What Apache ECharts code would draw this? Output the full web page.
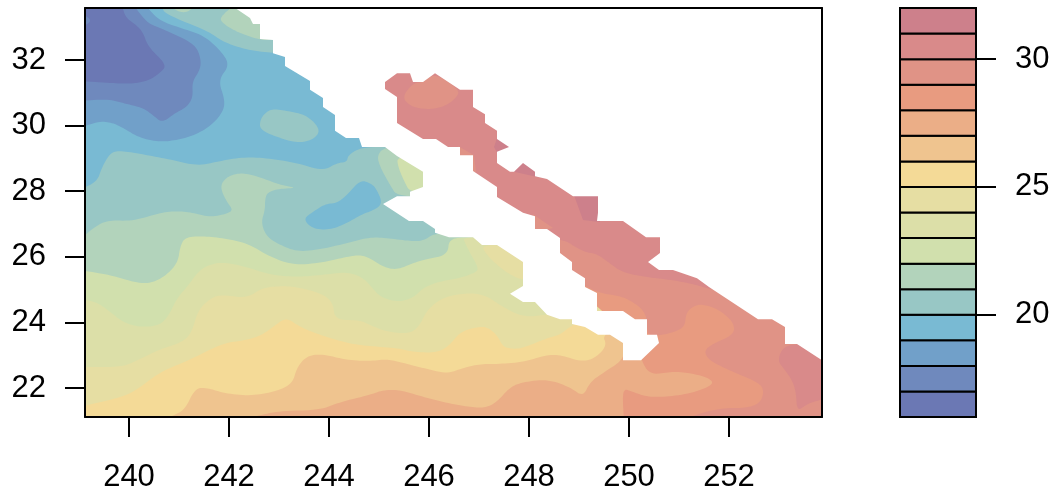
<!DOCTYPE html>
<html>
<head>
<meta charset="utf-8">
<style>html,body{margin:0;padding:0;background:#fff}#c{width:1055px;height:495px}</style>
<script src="https://cdn.jsdelivr.net/npm/echarts@6/dist/echarts.min.js"></script>
</head>
<body>
<div id="c"></div>
<script>
// Contour levels of the colour key and one colour per band (lowest first)
const levels = [16,17,18,19,20,21,22,23,24,25,26,27,28,29,30,31,32];
const bandColors = ['#6b78b4','#6f89bd','#71a0c9','#79bad3','#98c7c5','#b2d3bb','#d1e0ad','#dcdfa8','#e6dea3','#f4da97','#efc48f','#ebae87','#e89b80','#e09386','#d98a8a','#cd808b'];
const lonTicks = [240,242,244,246,248,250,252];
const latTicks = [22,24,26,28,30,32];
const keyTicks = [20,25,30];

// Contour regions as [longitude, latitude]
const box = [[239,21],[254,21],[254,34],[239,34]];
const above17 = [[239.86,33.7],[239.92,33.31],[240.14,33.07],[240.28,32.85],[240.38,32.40],[240.76,31.85],[240.62,31.60],[240.38,31.36],[240.02,31.27],[239.62,31.30],[239,31.36],[239,21],[254,21],[254,33.7]];
const above17Corner = [[239,33.44],[239.22,33.28],[239.22,33.13],[239,32.98]];
const above18 = [[240.08,33.7],[240.36,33.13],[240.62,32.98],[241.16,32.61],[241.36,32.37],[241.44,32.0],[241.42,31.70],[241.26,31.33],[241.28,30.87],[241.16,30.57],[240.92,30.38],[240.66,30.08],[240.48,30.32],[240.28,30.54],[239.88,30.69],[239.56,30.81],[239,30.75],[239,21],[254,21],[254,33.7]];
const above19 = [[240.32,33.7],[240.58,33.22],[241.02,32.98],[241.48,32.76],[241.82,32.31],[242.02,31.85],[241.78,31.39],[241.92,30.78],[241.88,30.42],[241.66,30.02],[241.32,29.71],[240.96,29.56],[240.62,29.50],[240.22,29.62],[239.88,29.93],[239.68,30.08],[239.42,30.14],[239,29.93],[239,21],[254,21],[254,33.7]];
const above20North = [[240.66,33.7],[240.68,33.46],[241.02,33.22],[241.62,32.85],[241.88,32.55],[242.36,32.31],[242.88,32.21],[243.2,32.21],[243.2,33.7]];
const above20South = [[239,28.04],[239.36,28.28],[239.46,28.74],[239.64,29.20],[239.88,29.23],[240.36,29.10],[240.88,28.95],[241.38,28.77],[241.82,28.92],[242.28,29.04],[242.76,29.01],[243.36,28.86],[243.88,28.62],[244.16,28.86],[244.36,28.89],[244.38,29.10],[244.66,29.35],[254,29.35],[254,21],[239,21]];
const above20Island = [[242.86,30.51],[243.16,30.45],[243.56,30.32],[243.84,29.87],[243.68,29.56],[243.36,29.47],[242.96,29.65],[242.62,29.87],[242.62,30.17],[242.72,30.38]];
const below20Pool = [[243.48,27.15],[243.68,26.85],[244.02,26.82],[244.36,27.03],[244.68,27.31],[244.86,27.40],[245.08,27.61],[244.94,28.10],[244.82,28.25],[244.62,28.34],[244.36,27.88],[244.16,27.64],[243.92,27.61],[243.68,27.37]];
const above21Top = [[240.86,33.7],[240.86,33.59],[241.02,33.46],[241.16,33.46],[241.28,33.59],[241.28,33.7]];
const above21North = [[242.12,33.7],[241.82,33.31],[241.86,33.13],[242.16,32.85],[242.62,32.61],[242.92,32.61],[242.92,33.7]];
const above21East = [[245.12,29.35],[244.96,29.10],[245.02,28.74],[245.22,28.19],[245.36,27.85],[246,27.85],[246,29.35]];
const above21Main = [[239,26.51],[239.36,26.97],[239.62,27.12],[240.08,27.09],[240.62,27.34],[240.96,27.40],[241.28,27.34],[241.62,27.21],[241.96,27.31],[242.08,27.43],[241.96,27.67],[241.84,28.04],[241.86,28.28],[242.02,28.49],[242.28,28.56],[242.62,28.43],[243.02,28.19],[243.38,28.10],[242.96,28.07],[242.76,27.95],[242.72,27.73],[242.72,27.43],[242.64,27.03],[242.76,26.60],[243.02,26.36],[243.38,26.15],[243.88,26.24],[244.36,26.42],[244.82,26.60],[245.16,26.57],[245.62,26.48],[245.88,26.48],[246.12,26.73],[254,26.73],[254,21],[239,21]];
const above22East = [[245.36,29.07],[245.38,28.74],[245.52,28.25],[245.62,27.98],[246,27.98],[246,29.07]];
const above22Main = [[239,25.60],[239.62,25.45],[240.16,25.20],[240.46,25.20],[240.76,25.45],[240.98,25.84],[241.02,26.30],[241.12,26.60],[241.48,26.63],[241.88,26.57],[242.36,26.42],[242.82,26.0],[243.28,25.75],[243.82,25.81],[244.36,26.0],[244.62,26.06],[244.82,25.96],[245.08,25.69],[245.36,25.60],[245.68,25.81],[245.96,25.93],[246.38,26.06],[246.40,26.60],[254,26.60],[254,21],[239,21]];
const above23 = [[239,24.71],[239.36,24.62],[239.62,24.32],[239.88,24.01],[240.18,23.86],[240.58,23.89],[240.78,24.16],[240.96,24.74],[241.16,25.08],[241.38,25.54],[241.58,25.75],[241.88,25.84],[242.36,25.69],[242.82,25.45],[243.36,25.38],[243.88,25.45],[244.36,25.54],[244.66,25.38],[244.82,25.14],[245.02,24.77],[245.38,24.62],[245.68,24.74],[245.88,25.05],[246.16,25.23],[246.62,25.35],[246.96,25.54],[246.98,25.69],[246.82,26.12],[246.72,26.42],[246.68,26.60],[254,26.60],[254,21],[239,21]];
const above24East = [[247.06,26.36],[247.12,26.12],[247.36,25.75],[247.62,25.45],[247.88,25.29],[248.2,25.29],[248.2,26.36]];
const above24Main = [[239,22.64],[239.86,22.64],[240.18,22.85],[240.58,23.16],[241.08,23.40],[241.26,23.71],[241.38,24.38],[241.66,24.77],[241.88,24.84],[242.36,24.74],[242.66,25.05],[243.02,25.11],[243.36,25.08],[243.88,24.87],[244.08,24.59],[244.12,24.07],[244.62,24.07],[244.82,23.92],[245.16,23.71],[245.62,23.65],[245.82,23.92],[245.96,24.38],[246.28,24.77],[246.76,24.90],[247.12,24.84],[247.48,24.47],[247.88,24.16],[248.36,24.23],[249.36,24.53],[254,26.6],[254,21],[239,21]];
const above25 = [[239,21.42],[239.62,21.63],[240.08,21.85],[240.62,22.49],[241.16,22.82],[241.88,23.37],[242.36,23.46],[242.66,23.62],[242.88,23.86],[243.14,24.16],[243.42,23.86],[243.82,23.62],[244.36,23.37],[244.76,23.28],[245.36,23.22],[245.68,23.10],[246.16,23.07],[246.42,23.31],[246.62,23.71],[246.96,23.86],[247.16,23.86],[247.36,23.62],[247.48,23.25],[247.68,23.19],[247.88,23.22],[248.36,23.52],[248.62,23.62],[248.86,23.92],[249.42,24.38],[254,26.6],[254,21],[239,21]];
const above26 = [[240.7,21],[240.86,21.15],[241.12,21.33],[241.32,22.0],[241.58,22.0],[241.88,21.85],[242.36,21.76],[242.82,21.85],[243.26,22.09],[243.36,22.64],[243.56,22.98],[243.86,23.04],[244.36,22.85],[244.82,22.82],[245.16,22.88],[245.42,22.79],[245.88,22.61],[246.36,22.43],[246.68,22.61],[247.02,22.73],[247.36,22.73],[247.88,22.79],[248.36,23.01],[248.62,23.01],[249.08,22.79],[249.36,22.95],[249.56,23.31],[249.46,23.62],[250.02,24.07],[254,26.6],[254,21]];
const above27 = [[242.2,21],[242.56,21.15],[243.02,21.30],[243.82,21.33],[244.22,21.57],[244.82,21.79],[245.08,21.94],[245.42,21.94],[245.88,21.73],[246.36,21.54],[246.82,21.42],[247.12,21.39],[247.36,21.57],[247.62,22.03],[247.88,22.18],[248.36,22.27],[248.82,22.03],[249.08,21.73],[249.22,22.18],[249.48,22.46],[249.88,22.85],[249.92,23.31],[250.22,23.91],[254,26.6],[254,21]];
const above28 = [[249.9,21],[249.86,22.0],[250.08,21.88],[250.36,21.73],[250.76,21.73],[251.28,21.85],[251.72,22.12],[251.56,22.34],[251.08,22.49],[250.82,22.49],[250.42,22.40],[250.24,22.85],[250.22,23.31],[249.22,24.68],[248.22,25.90],[247.02,27.73],[245.82,29.26],[245.02,30.17],[245.02,34],[254,34],[254,21]];
const above29 = [[250.56,23.59],[250.86,23.68],[251.12,23.86],[251.14,24.32],[251.36,24.56],[251.62,24.50],[251.86,24.32],[252.10,23.98],[252.10,23.62],[251.62,23.31],[251.50,23.10],[251.62,22.82],[252.08,22.49],[252.62,22.15],[252.70,21.88],[252.62,21.54],[252.36,21.39],[251.88,21.39],[251.42,21.24],[251.08,21.0],[254,21],[254,34],[245.02,34],[245.02,30.17],[245.82,29.26],[247.02,27.73],[248.22,25.90],[249.36,24.90],[249.82,24.81],[250.08,24.62],[250.28,24.38],[250.36,24.10],[250.36,23.62]];
const above30Main = [[245.02,34],[245.02,30.17],[245.82,29.26],[247.02,27.73],[248.22,26.36],[248.62,26.60],[249.08,26.15],[249.36,26.09],[249.58,25.84],[249.88,25.51],[250.36,25.38],[250.88,25.29],[251.36,25.14],[251.66,24.99],[254,24.99],[254,34]];
const above30East = [[253.12,23.34],[252.96,22.85],[253.12,22.55],[253.26,22.24],[253.34,21.88],[253.36,21.27],[253.58,21.54],[254,21.70],[254,23.34]];
const below30North = [[245.46,30.87],[245.68,31.30],[245.88,31.33],[246.12,31.60],[246.62,31.09],[246.54,30.84],[246.36,30.63],[246.12,30.51],[245.86,30.51],[245.62,30.60]];
const below30Mid = [[246.58,29.38],[246.90,29.10],[246.94,28.59],[246.82,28.59],[246.58,29.01]];
const below30South = [[248.08,27.30],[248.48,26.88],[248.08,26.76]];
const above31A = [[247.30,29.35],[247.36,29.62],[247.66,29.35],[247.36,29.17]];
const above31B = [[247.70,28.59],[247.88,28.89],[248.16,28.59],[248.16,28.43]];
const above31C = [[248.90,27.88],[249.08,27.12],[249.42,27.06],[249.42,27.88]];
// Where the field has no data (drawn white, last)
const noData = [[242.12,34],[242.12,33.59],[242.42,33.28],[242.48,33.10],[242.62,33.10],[242.62,32.64],[242.88,32.61],[242.88,32.21],[243.12,32.09],[243.12,31.82],[243.62,31.36],[243.62,31.09],[243.88,30.84],[243.88,30.57],[244.12,30.32],[244.12,29.84],[244.34,29.62],[244.60,29.62],[244.66,29.35],[245.12,29.35],[245.36,29.07],[245.88,28.59],[245.88,28.13],[245.62,27.98],[245.62,27.85],[245.36,27.85],[245.08,27.61],[245.60,27.09],[245.88,27.09],[246.12,26.85],[246.12,26.73],[246.40,26.60],[246.88,26.60],[247.06,26.36],[247.36,26.36],[247.88,25.84],[247.88,25.11],[247.62,24.87],[247.88,24.62],[248.12,24.62],[248.36,24.23],[248.62,24.10],[248.86,24.10],[248.86,23.95],[249.12,23.86],[249.38,23.62],[249.62,23.62],[249.88,23.37],[249.88,22.85],[250.24,22.85],[250.60,23.37],[250.56,23.62],[250.36,23.62],[250.36,24.10],[250.12,24.10],[249.88,24.35],[249.36,24.35],[249.36,24.90],[249.12,25.08],[249.12,25.35],[248.86,25.60],[248.86,25.84],[248.62,26.12],[248.62,26.57],[248.36,26.85],[248.12,26.85],[248.12,27.24],[247.88,27.34],[247.36,27.82],[247.36,28.13],[247.12,28.37],[246.88,28.62],[246.88,29.10],[246.62,29.10],[246.62,29.35],[246.38,29.35],[246.14,29.59],[245.88,29.59],[245.36,30.08],[245.36,30.87],[245.12,31.12],[245.12,31.33],[245.36,31.60],[245.62,31.60],[245.68,31.33],[245.88,31.33],[246.12,31.60],[246.62,31.09],[246.88,31.09],[246.88,30.57],[247.12,30.35],[247.12,30.08],[247.36,29.84],[247.36,29.59],[247.60,29.35],[247.36,29.20],[247.36,28.86],[247.62,28.59],[247.70,28.59],[247.88,28.86],[248.12,28.59],[248.12,28.46],[248.36,28.37],[248.88,27.85],[249.38,27.85],[249.38,27.34],[249.36,27.09],[249.88,27.09],[250.34,26.60],[250.62,26.60],[250.62,26.12],[250.38,25.84],[250.60,25.60],[250.88,25.60],[251.36,25.35],[251.60,25.08],[252.58,24.10],[252.86,24.10],[253.12,23.86],[253.12,23.34],[253.36,23.34],[253.86,22.85],[254,22.8],[254,34]];

// Painting order: [lower level of the band, region]
const regions = [
  [16,box],[17,above17],[17,above17Corner],[18,above18],[19,above19],
  [20,above20North],[20,above20South],[20,above20Island],[19,below20Pool],
  [21,above21Top],[21,above21North],[21,above21East],[21,above21Main],
  [22,above22East],[22,above22Main],[23,above23],[24,above24East],[24,above24Main],
  [25,above25],[26,above26],[27,above27],[28,above28],[29,above29],
  [30,above30Main],[30,above30East],[29,below30North],[29,below30Mid],[29,below30South],
  [31,above31A],[31,above31B],[31,above31C],[null,noData]
];
const angularRegions = [box,noData,below30Mid,below30South,above31A,above31B,above31C];

// Rounds the drawn outline (a filled.contour look); vertices outside the frame stay sharp
function rounded(poly, screen) {
  let pts = screen.map((p,i)=>({p,hard:poly[i][0]<=239||poly[i][0]>=254||poly[i][1]<=21||poly[i][1]>=33.7}));
  for (let pass=0; pass<3; pass++) {
    const next=[];
    pts.forEach((v,i)=>{
      if (v.hard) { next.push(v); return; }
      const a=pts[(i-1+pts.length)%pts.length].p, b=pts[(i+1)%pts.length].p;
      const cut=(o)=>{const dx=o[0]-v.p[0],dy=o[1]-v.p[1],d=Math.hypot(dx,dy)||1,t=Math.min(0.25*d,8)/d;return {p:[v.p[0]+dx*t,v.p[1]+dy*t],hard:false};};
      next.push(cut(a),cut(b));
    });
    pts=next;
  }
  return pts.map(q=>q.p);
}

const fontFamily = '"Liberation Sans", Arial, sans-serif';
const line = {lineStyle:{color:'#000',width:2}};
const tickStyle = {length:20,lineStyle:{color:'#000',width:2}};
const labelStyle = {color:'#000',fontSize:31,fontFamily};

const chart = echarts.init(document.getElementById('c'), null, {renderer:'canvas'});
chart.setOption({
  animation:false,
  backgroundColor:'#fff',
  grid:[
    {left:85,top:8,width:737,height:409},
    {left:900,top:8,width:76,height:409}
  ],
  xAxis:[
    {gridIndex:0,type:'value',position:'bottom',min:239.12,max:253.86,z:10,splitLine:{show:false},
     axisLine:{show:true,onZero:false,...line},axisTick:{show:true,customValues:lonTicks,...tickStyle},
     axisLabel:{show:true,customValues:lonTicks,margin:45,...labelStyle,formatter:v=>String(v)}},
    {gridIndex:0,type:'value',position:'top',min:239.12,max:253.86,z:10,splitLine:{show:false},
     axisLine:{show:true,onZero:false,...line},axisTick:{show:false},axisLabel:{show:false}},
    {gridIndex:1,type:'value',min:0,max:1,show:false}
  ],
  yAxis:[
    {gridIndex:0,type:'value',position:'left',min:21.116,max:33.586,z:10,splitLine:{show:false},
     axisLine:{show:true,onZero:false,...line},axisTick:{show:true,customValues:latTicks,...tickStyle},
     axisLabel:{show:true,customValues:latTicks,margin:39,padding:[4,0,0,0],...labelStyle,formatter:v=>String(v)}},
    {gridIndex:0,type:'value',position:'right',min:21.116,max:33.586,z:10,splitLine:{show:false},
     axisLine:{show:true,onZero:false,...line},axisTick:{show:false},axisLabel:{show:false}},
    {gridIndex:1,type:'value',position:'right',min:16,max:32,z:10,splitLine:{show:false},
     axisLine:{show:true,onZero:false,...line},axisTick:{show:true,customValues:keyTicks,...tickStyle},
     axisLabel:{show:true,customValues:keyTicks,margin:39,padding:[4,0,0,0],...labelStyle,formatter:v=>String(v)}}
  ],
  series:[
    {type:'custom',xAxisIndex:0,yAxisIndex:0,silent:true,clip:true,
     data:regions.map(r=>[r[1][0][0],r[1][0][1],r[0]]),
     renderItem:(params,api)=>{
       const r = regions[params.dataIndex];
       const screen = r[1].map(p=>api.coord(p));
       const points = angularRegions.includes(r[1]) ? screen : rounded(r[1],screen);
       return {type:'polygon',shape:{points},
         style:{fill:r[0]===null?'#fff':bandColors[r[0]-levels[0]],stroke:null}};
     }},
    {type:'custom',xAxisIndex:2,yAxisIndex:2,silent:true,clip:false,
     data:levels.slice(0,-1).map((lo,i)=>[lo,levels[i+1]]),
     renderItem:(params,api)=>{
       const a = api.coord([0,api.value(0)]), b = api.coord([1,api.value(1)]);
       return {type:'rect',shape:{x:a[0],y:b[1],width:b[0]-a[0],height:a[1]-b[1]},
         style:{fill:bandColors[params.dataIndex],stroke:'#000',lineWidth:2}};
     }}
  ]
});
</script>
</body>
</html>
